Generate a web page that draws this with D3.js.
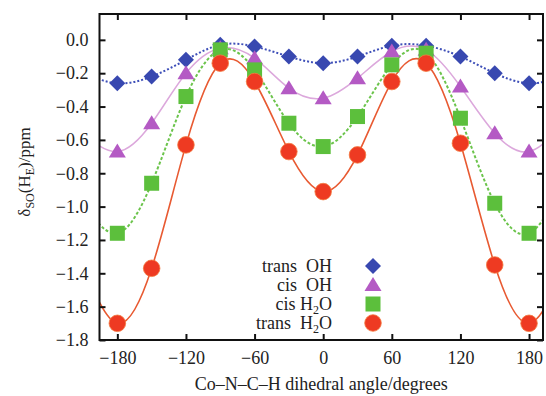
<!DOCTYPE html>
<html><head><meta charset="utf-8">
<script src="https://cdn.jsdelivr.net/npm/d3@7"></script>
<style>body{margin:0;background:#fff}svg{display:block}text{font-family:"Liberation Serif","DejaVu Serif",serif;fill:#222}</style>
</head><body><svg id="c" width="546" height="396"></svg>
<script>
const angles = [-180,-150,-120,-90,-60,-30,0,30,60,90,120,150,180];
const transOH  = [-0.26,-0.22,-0.12,-0.03,-0.04,-0.10,-0.14,-0.10,-0.035,-0.035,-0.10,-0.20,-0.26];
const cisOH    = [-0.67,-0.50,-0.20,-0.05,-0.11,-0.29,-0.35,-0.23,-0.07,-0.06,-0.28,-0.56,-0.67];
const cisH2O   = [-1.16,-0.86,-0.34,-0.06,-0.18,-0.50,-0.64,-0.46,-0.15,-0.08,-0.47,-0.98,-1.16];
const transH2O = [-1.70,-1.37,-0.63,-0.14,-0.25,-0.67,-0.91,-0.69,-0.25,-0.14,-0.62,-1.35,-1.70];
const xTicks = [-180,-120,-60,0,60,120,180];
const yTicks = [0.0,-0.2,-0.4,-0.6,-0.8,-1.0,-1.2,-1.4,-1.6,-1.8];

const series = [
  {name:"trans", sub:"OH", vals:transOH, color:"#3848b0", line:"#3e4fb8", dash:"2,2", lw:2, sym:"diamond"},
  {name:"cis", sub:"OH", vals:cisOH, color:"#b45ac4", line:"#dca8dc", dash:null, lw:1.5, sym:"triangle"},
  {name:"cis", sub:"H2O", vals:cisH2O, color:"#5cbf3c", line:"#6cc44c", dash:"3,2", lw:2, sym:"square"},
  {name:"trans", sub:"H2O", vals:transH2O, color:"#ee3a22", line:"#e85a32", dash:null, lw:1.6, sym:"circle"}
];

const svg = d3.select("#c");
const L=99.5, R=543, T=14, B=340;
const FS = "18px", SUB = "12px";
const x = d3.scaleLinear().domain([-195.6,192.2]).range([L,R]);
const y = d3.scaleLinear().domain([-1.8,0.155]).range([B,T]);

svg.append("clipPath").attr("id","clip").append("rect").attr("x",L).attr("y",T).attr("width",R-L).attr("height",B-T);

series.forEach(s=>{
  const pts = angles.map((a,i)=>[a,s.vals[i]]);
  const ext = [[-210,s.vals[11]]].concat(pts).concat([[210,s.vals[1]]]);
  const line = d3.line().x(d=>x(d[0])).y(d=>y(d[1])).curve(d3.curveNatural);
  svg.append("path").attr("d",line(ext)).attr("fill","none").attr("stroke",s.line)
    .attr("stroke-width",s.lw).attr("stroke-dasharray",s.dash).attr("clip-path","url(#clip)");
});

function sym(g, s, cx, cy){
  if(s.sym==="diamond"){
    g.append("path").attr("d",`M${cx},${cy-8}L${cx+8},${cy}L${cx},${cy+8}L${cx-8},${cy}Z`).attr("fill",s.color);
  } else if(s.sym==="triangle"){
    g.append("path").attr("d",`M${cx},${cy-8}L${cx+8.5},${cy+6}L${cx-8.5},${cy+6}Z`).attr("fill",s.color);
  } else if(s.sym==="square"){
    g.append("rect").attr("x",cx-7.5).attr("y",cy-7.5).attr("width",15).attr("height",15).attr("fill",s.color);
  } else {
    g.append("circle").attr("cx",cx).attr("cy",cy).attr("r",8.3).attr("fill",s.color).attr("stroke","#f47a40").attr("stroke-width",0.8);
  }
}
series.forEach(s=>{
  const g = svg.append("g");
  angles.forEach((a,i)=>sym(g,s,x(a),y(s.vals[i])));
});

svg.append("rect").attr("x",L).attr("y",T).attr("width",R-L).attr("height",B-T).attr("fill","none").attr("stroke","#111").attr("stroke-width",2);
const gx = svg.append("g").attr("transform",`translate(0,${B})`).call(d3.axisBottom(x).tickValues(xTicks).tickSize(-6).tickPadding(11).tickFormat(d=>d<0?"\u2212"+Math.abs(d):d));
const gxt = svg.append("g").attr("transform",`translate(0,${T})`).call(d3.axisTop(x).tickValues(xTicks).tickSize(-6).tickFormat(""));
const gy = svg.append("g").attr("transform",`translate(${L},0)`).call(d3.axisLeft(y).tickValues(yTicks).tickSize(-6).tickPadding(11).tickFormat(d=>(d<0?"\u2212":"")+Math.abs(d).toFixed(1)));
const gyr = svg.append("g").attr("transform",`translate(${R},0)`).call(d3.axisRight(y).tickValues(yTicks).tickSize(-6).tickFormat(""));
[gx,gxt,gy,gyr].forEach(g=>{g.select(".domain").remove();g.selectAll("line").attr("stroke","#111").attr("stroke-width",2);
  g.selectAll("text").style("font-family","Liberation Serif").style("font-size",FS).attr("fill","#222");});

svg.append("text").attr("x",(L+R)/2).attr("y",390).attr("text-anchor","middle").style("font-size",FS)
  .text("Co\u2013N\u2013C\u2013H dihedral angle/degrees");
const yl = svg.append("text").attr("transform","translate(30,172) rotate(-90)").attr("text-anchor","middle").style("font-size","17px");
yl.append("tspan").text("\u03b4");
yl.append("tspan").attr("dy",4).style("font-size",SUB).text("SO");
yl.append("tspan").attr("dy",-4).text("(H");
yl.append("tspan").attr("dy",4).style("font-size",SUB).text("E");
yl.append("tspan").attr("dy",-4).text(")/ppm");

const legY = [266,285,304,323];
series.forEach((s,i)=>{
  const t = svg.append("text").attr("x",332).attr("y",legY[i]+6).attr("text-anchor","end").style("font-size",FS).attr("xml:space","preserve");
  t.append("tspan").text(s.name + (s.name==="trans"?"  ":(s.sub==="OH"?"  ":" ")));
  if(s.sub==="OH"){ t.append("tspan").text("OH"); }
  else { t.append("tspan").text("H"); t.append("tspan").attr("dy",4).style("font-size",SUB).text("2"); t.append("tspan").attr("dy",-4).text("O"); }
  sym(svg, s, 373, legY[i]);
});
</script></body></html>
